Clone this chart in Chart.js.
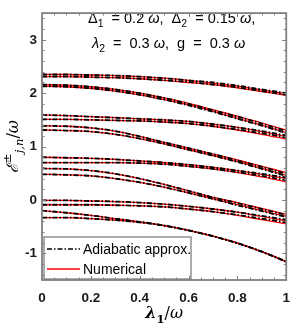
<!DOCTYPE html>
<html>
<head>
<meta charset="utf-8">
<script src="https://cdn.jsdelivr.net/npm/chart.js@4.4.1/dist/chart.umd.min.js"></script>
<style>
  html, body { margin: 0; padding: 0; background: #fff; }
  #wrap { position: relative; width: 300px; height: 327px; }
</style>
</head>
<body>
<div id="wrap"><canvas id="chart"></canvas></div>
<script>
const lambda1 = [0, 0.1, 0.2, 0.3, 0.4, 0.5, 0.6, 0.7, 0.8, 0.9, 1.0];
const xTicks = [0, 0.2, 0.4, 0.6, 0.8, 1];
const yTicks = [-1, 0, 1, 2, 3];

// adiabatic approximation (black dash-dot)
const adA1 = [2.35, 2.35, 2.34, 2.33, 2.31, 2.28, 2.24, 2.20, 2.14, 2.07, 2.00];
const adA2 = [2.31, 2.31, 2.30, 2.29, 2.27, 2.24, 2.21, 2.16, 2.11, 2.04, 1.97];
const adB1 = [2.16, 2.15, 2.12, 2.07, 2.00, 1.91, 1.80, 1.68, 1.56, 1.43, 1.29];
const adB2 = [2.13, 2.12, 2.09, 2.04, 1.97, 1.88, 1.77, 1.65, 1.52, 1.39, 1.25];
const adC1 = [1.59, 1.58, 1.56, 1.54, 1.52, 1.50, 1.47, 1.42, 1.36, 1.29, 1.21];
const adC2 = [1.51, 1.51, 1.50, 1.49, 1.48, 1.46, 1.43, 1.38, 1.32, 1.25, 1.17];
const adD1 = [1.39, 1.38, 1.35, 1.29, 1.19, 1.08, 0.97, 0.86, 0.74, 0.62, 0.49];
const adD2 = [1.31, 1.30, 1.28, 1.23, 1.15, 1.05, 0.94, 0.83, 0.71, 0.58, 0.45];
const adE1 = [0.80, 0.79, 0.78, 0.76, 0.73, 0.70, 0.66, 0.61, 0.55, 0.49, 0.42];
const adE2 = [0.70, 0.70, 0.70, 0.70, 0.69, 0.67, 0.63, 0.58, 0.52, 0.45, 0.37];
const adF1 = [0.59, 0.58, 0.55, 0.49, 0.40, 0.29, 0.17, 0.05, -0.06, -0.17, -0.28];
const adF2 = [0.48, 0.47, 0.45, 0.40, 0.33, 0.24, 0.13, 0.02, -0.10, -0.21, -0.32];
const adG1 = [-0.01, -0.01, -0.02, -0.03, -0.05, -0.08, -0.12, -0.17, -0.23, -0.30, -0.37];
const adG2 = [-0.09, -0.09, -0.09, -0.10, -0.11, -0.13, -0.17, -0.22, -0.28, -0.35, -0.42];
const adH1 = [-0.20, -0.24, -0.29, -0.35, -0.41, -0.48, -0.57, -0.68, -0.81, -0.97, -1.15];
const adH2 = [-0.33, -0.33, -0.35, -0.38, -0.42, -0.48, -0.57, -0.68, -0.81, -0.97, -1.16];

// numerical (red solid)
const numA1 = [2.35, 2.35, 2.34, 2.33, 2.31, 2.28, 2.24, 2.19, 2.13, 2.06, 1.99];
const numA2 = [2.31, 2.31, 2.30, 2.29, 2.27, 2.24, 2.20, 2.16, 2.10, 2.03, 1.96];
const numB1 = [2.16, 2.15, 2.12, 2.07, 2.00, 1.91, 1.81, 1.69, 1.57, 1.44, 1.31];
const numB2 = [2.13, 2.12, 2.09, 2.04, 1.97, 1.88, 1.78, 1.66, 1.53, 1.40, 1.26];
const numC1 = [1.59, 1.58, 1.56, 1.54, 1.52, 1.50, 1.47, 1.42, 1.36, 1.28, 1.19];
const numC2 = [1.51, 1.51, 1.50, 1.49, 1.48, 1.46, 1.43, 1.38, 1.31, 1.23, 1.14];
const numD1 = [1.39, 1.38, 1.35, 1.29, 1.19, 1.08, 0.97, 0.86, 0.75, 0.63, 0.51];
const numD2 = [1.31, 1.30, 1.28, 1.23, 1.15, 1.05, 0.94, 0.83, 0.72, 0.59, 0.46];
const numE1 = [0.80, 0.79, 0.78, 0.76, 0.73, 0.70, 0.66, 0.61, 0.55, 0.48, 0.40];
const numE2 = [0.70, 0.70, 0.70, 0.70, 0.69, 0.67, 0.63, 0.58, 0.51, 0.43, 0.34];
const numF1 = [0.59, 0.58, 0.55, 0.49, 0.40, 0.29, 0.17, 0.05, -0.05, -0.16, -0.27];
const numF2 = [0.48, 0.47, 0.45, 0.40, 0.33, 0.24, 0.13, 0.02, -0.09, -0.20, -0.31];
const numG1 = [-0.01, -0.01, -0.02, -0.03, -0.05, -0.08, -0.12, -0.17, -0.23, -0.31, -0.39];
const numG2 = [-0.09, -0.09, -0.09, -0.10, -0.11, -0.13, -0.17, -0.22, -0.29, -0.37, -0.45];
const numH1 = [-0.20, -0.24, -0.29, -0.35, -0.41, -0.48, -0.57, -0.68, -0.81, -0.97, -1.15];
const numH2 = [-0.33, -0.33, -0.35, -0.38, -0.42, -0.48, -0.57, -0.68, -0.81, -0.97, -1.16];

const adiabatic = [adA1, adA2, adB1, adB2, adC1, adC2, adD1, adD2, adE1, adE2, adF1, adF2, adG1, adG2, adH1, adH2];
const numerical = [numA1, numA2, numB1, numB2, numC1, numC2, numD1, numD2, numE1, numE2, numF1, numF2, numG1, numG2, numH1, numH2];

const BLACK_DASH = [5, 2, 1.5, 2];
const FRAME = "#808080";

const toPoints = (ys) => ys.map((v, i) => ({ x: lambda1[i], y: v }));

const datasets = [];
numerical.forEach((ys) => datasets.push({
  data: toPoints(ys), borderColor: "#ff0000", borderWidth: 1.3,
  pointRadius: 0, fill: false, cubicInterpolationMode: "monotone", order: 2,
}));
adiabatic.forEach((ys) => datasets.push({
  data: toPoints(ys), borderColor: "#000000", borderWidth: 1.8, borderDash: BLACK_DASH,
  pointRadius: 0, fill: false, cubicInterpolationMode: "monotone", order: 1,
}));

// mixed text with sub/superscripts, drawn left to right
function drawRich(ctx, x, y, parts, size, measureOnly) {
  ctx.textAlign = "left";
  ctx.textBaseline = "alphabetic";
  let w = 0;
  for (const p of parts) {
    const fs = (p.sub || p.sup) ? size * 0.72 : size;
    const fam = p.serif ? '"DejaVu Serif", serif' : '"Liberation Sans", Arial, sans-serif';
    ctx.font = (p.it ? "italic " : "") + (p.bold ? "bold " : "") + fs + "px " + fam;
    const dy = p.sub ? size * 0.3 : p.sup ? -size * 0.45 : 0;
    if (!measureOnly) ctx.fillText(p.t, x + w, y + dy);
    w += ctx.measureText(p.t).width;
  }
  return w;
}

const decorations = {
  id: "decorations",
  afterDatasetsDraw(chart) {
    const { ctx, chartArea: a } = chart;
    ctx.save();
    ctx.fillStyle = "#000";

    // parameters text
    drawRich(ctx, 88, 23, [
      { t: "Δ" }, { t: "1", sub: true }, { t: "  = 0.2 " }, { t: "ω", it: true },
      { t: ",  Δ" }, { t: "2", sub: true }, { t: "  = 0.15 " }, { t: "ω", it: true }, { t: "," },
    ], 14.5);
    drawRich(ctx, 92, 48, [
      { t: "λ", it: true }, { t: "2", sub: true }, { t: "  =  0.3 " }, { t: "ω", it: true },
      { t: ",  g  =  0.3 " }, { t: "ω", it: true },
    ], 14.5);

    // legend box
    const lx = a.left + 2, ly = a.bottom - 43, lw = 147, lh = 42;
    ctx.fillStyle = "#fff";
    ctx.fillRect(lx, ly, lw, lh);
    ctx.strokeStyle = FRAME;
    ctx.lineWidth = 1.3;
    ctx.strokeRect(lx, ly, lw, lh);

    ctx.lineWidth = 1.6;
    ctx.strokeStyle = "#000";
    ctx.setLineDash(BLACK_DASH);
    ctx.beginPath(); ctx.moveTo(lx + 3, ly + 12); ctx.lineTo(lx + 36, ly + 12); ctx.stroke();
    ctx.setLineDash([]);
    ctx.strokeStyle = "#ff0000";
    ctx.lineWidth = 1.3;
    ctx.beginPath(); ctx.moveTo(lx + 3, ly + 32); ctx.lineTo(lx + 36, ly + 32); ctx.stroke();

    ctx.fillStyle = "#000";
    ctx.textAlign = "left";
    ctx.textBaseline = "alphabetic";
    ctx.font = '14px "Liberation Sans", Arial, sans-serif';
    ctx.fillText("Adiabatic approx.", lx + 39, ly + 17);
    ctx.fillText("Numerical", lx + 39, ly + 37);
    ctx.restore();
  },
  afterDraw(chart) {
    const { ctx, chartArea: a, scales: { x, y } } = chart;
    ctx.save();
    ctx.strokeStyle = FRAME;
    ctx.lineWidth = 1;
    ctx.beginPath();
    for (let k = 1; k < 20; k++) {
      const px = Math.round(x.getPixelForValue(k * 0.05)) + 0.5;
      const len = k % 4 === 0 ? 4 : 2.5;
      ctx.moveTo(px, a.bottom); ctx.lineTo(px, a.bottom - len);
      ctx.moveTo(px, a.top); ctx.lineTo(px, a.top + len);
    }
    for (let k = -7; k <= 17; k++) {
      const py = Math.round(y.getPixelForValue(k * 0.2)) + 0.5;
      const len = k % 5 === 0 ? 4 : 2.5;
      ctx.moveTo(a.left, py); ctx.lineTo(a.left + len, py);
      ctx.moveTo(a.right, py); ctx.lineTo(a.right - len, py);
    }
    ctx.stroke();
    ctx.lineWidth = 1.8;
    ctx.strokeRect(a.left, a.top, a.right - a.left, a.bottom - a.top);

    // axis titles
    ctx.fillStyle = "#000";
    const xt = [
      { t: "λ", it: true, bold: true, serif: true }, { t: "1", sub: true, bold: true, serif: true },
      { t: "/", serif: true }, { t: "ω", it: true, serif: true },
    ];
    const xw = drawRich(ctx, 0, 0, xt, 16, true);
    drawRich(ctx, (a.left + a.right) / 2 - xw / 2, 318, xt, 16);

    const yt = [
      { t: "ℰ", it: true, serif: true }, { t: "±", sup: true, serif: true },
      { t: "j,n", sub: true, it: true, serif: true }, { t: "/", serif: true }, { t: "ω", it: true, serif: true },
    ];
    const yw = drawRich(ctx, 0, 0, yt, 16, true);
    ctx.translate(18, (a.top + a.bottom) / 2);
    ctx.rotate(-Math.PI / 2);
    drawRich(ctx, -yw / 2, 0, yt, 16);
    ctx.restore();
  },
};

const tickFont = { family: '"Liberation Sans", Arial, sans-serif', size: 13.5, weight: "bold" };

new Chart(document.getElementById("chart"), {
  type: "line",
  data: { datasets },
  options: {
    responsive: true,
    maintainAspectRatio: false,
    animation: false,
    layout: { padding: { top: 5, right: 7, left: 0, bottom: 0 } },
    plugins: { legend: { display: false }, tooltip: { enabled: false } },
    scales: {
      x: {
        type: "linear", min: 0, max: 1,
        grid: { display: false, drawTicks: false },
        border: { display: false },
        afterBuildTicks: (s) => { s.ticks = xTicks.map((v) => ({ value: v })); },
        afterFit: (s) => { s.height = 47; },
        ticks: { font: tickFont, color: "#1a1a1a", padding: 10, maxRotation: 0,
          callback: (v) => String(v) },
      },
      y: {
        type: "linear", min: -1.5, max: 3.5,
        grid: { display: false, drawTicks: false },
        border: { display: false },
        afterBuildTicks: (s) => { s.ticks = yTicks.map((v) => ({ value: v })); },
        afterFit: (s) => { s.width = 42; },
        ticks: { font: tickFont, color: "#1a1a1a", padding: 5, callback: (v) => String(v) },
      },
    },
  },
  plugins: [decorations],
});
</script>
</body>
</html>
